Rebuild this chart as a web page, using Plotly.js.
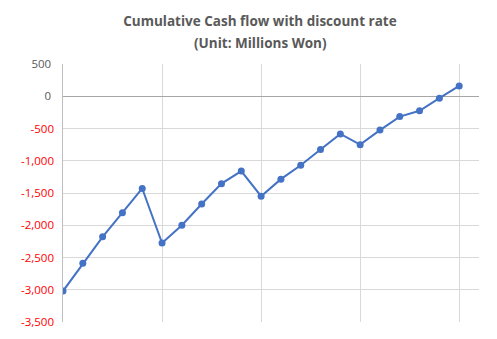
<!DOCTYPE html>
<html>
<head>
<meta charset="utf-8">
<script src="https://cdn.plot.ly/plotly-3.0.1.min.js"></script>
<style>html,body{margin:0;padding:0;background:#fff;}#chart{width:497px;height:339px;}</style>
</head>
<body>
<div id="chart"></div>
<script>
const periods = [0,1,2,3,4,5,6,7,8,9,10,11,12,13,14,15,16,17,18,19,20];
const cumulativeCash = [-3020,-2590,-2180,-1805,-1430,-2275,-2000,-1670,-1355,-1160,-1550,-1285,-1070,-825,-585,-750,-525,-315,-225,-30,160];
const yTickVals = [500,0,-500,-1000,-1500,-2000,-2500,-3000,-3500];
const yTickLabels = ["500","0","-500","-1,000","-1,500","-2,000","-2,500","-3,000","-3,500"];
const titleLines = ["Cumulative Cash flow with discount rate", "(Unit: Millions Won)"];

const posText = yTickVals.map((v,i) => v >= 0 ? yTickLabels[i] : '');
const negVals = yTickVals.filter(v => v < 0);
const negText = yTickVals.map((v,i) => yTickLabels[i]).filter((t,i) => yTickVals[i] < 0);

const trace = {
  x: periods,
  y: cumulativeCash,
  type: 'scatter',
  mode: 'lines+markers',
  line: {color: '#4472C4', width: 2},
  marker: {color: '#4472C4', size: 7},
  hoverinfo: 'none'
};
const labelTrace = {
  x: [periods[0]], y: [cumulativeCash[0]], yaxis: 'y2',
  type: 'scatter', mode: 'markers', marker: {opacity: 0}, hoverinfo: 'none'
};

const titleFont = {family: 'Open Sans, sans-serif', size: 13.5, color: '#595959', weight: 'bold'};
const tickFontBase = {family: 'Open Sans, sans-serif', size: 11.5};

const layout = {
  width: 497, height: 339,
  margin: {l: 63, r: 18, t: 64, b: 17},
  paper_bgcolor: '#ffffff', plot_bgcolor: '#ffffff',
  showlegend: false,
  title: {
    text: titleLines[0],
    font: titleFont,
    x: 0.523, xanchor: 'center', y: 1 - 21/339, yanchor: 'middle'
  },
  annotations: [{
    text: titleLines[1], font: titleFont, showarrow: false,
    xref: 'paper', yref: 'paper', x: (260-63)/416, xanchor: 'center',
    y: (322.5-43)/258, yanchor: 'middle'
  }],
  xaxis: {
    range: [0, 21], dtick: 5, tick0: 0, showticklabels: false,
    showgrid: true, gridcolor: '#D9D9D9', gridwidth: 1,
    zeroline: false, showline: false, ticks: '', fixedrange: true
  },
  yaxis: {
    range: [-3500, 500], tickvals: yTickVals, ticktext: posText,
    tickfont: Object.assign({color: '#595959'}, tickFontBase),
    showgrid: true, gridcolor: '#D9D9D9', gridwidth: 1,
    zeroline: true, zerolinecolor: '#A6A6A6', zerolinewidth: 1.5,
    showline: true, linecolor: '#BFBFBF', linewidth: 1.5,
    ticks: '', ticklabelstandoff: 8, fixedrange: true
  },
  yaxis2: {
    overlaying: 'y', side: 'left', matches: 'y',
    range: [-3500, 500], tickvals: negVals, ticktext: negText,
    tickfont: Object.assign({color: '#FF0000'}, tickFontBase),
    showgrid: false, zeroline: false, showline: false,
    ticks: '', ticklabelstandoff: 8, fixedrange: true
  }
};

Plotly.newPlot('chart', [trace, labelTrace], layout, {staticPlot: true, displayModeBar: false});
</script>
</body>
</html>
